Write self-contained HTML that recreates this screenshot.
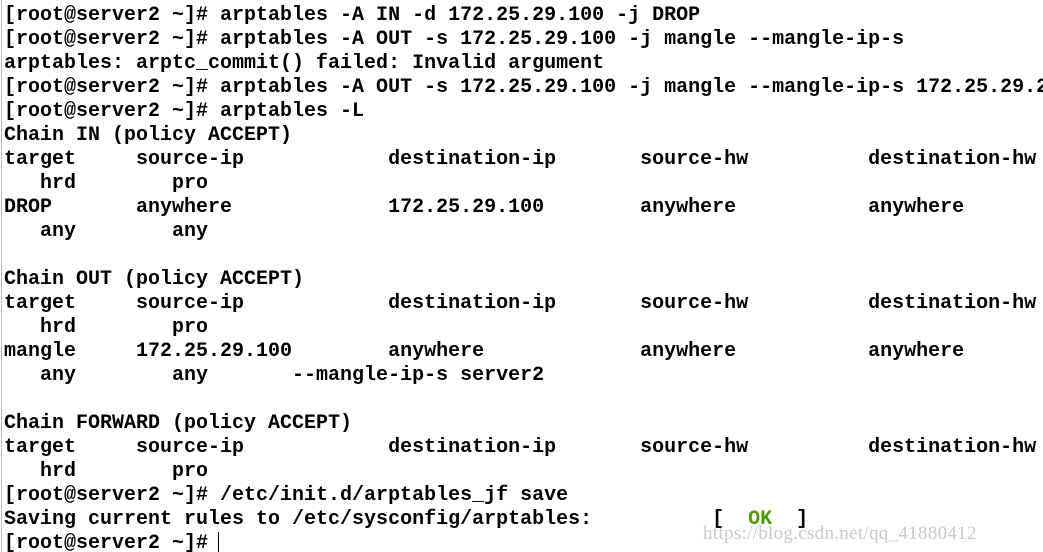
<!DOCTYPE html>
<html><head><meta charset="utf-8"><style>
html,body{margin:0;padding:0;background:#fff;width:1043px;height:552px;overflow:hidden;position:relative}
pre{margin:0;position:absolute;left:4px;top:4px;font-family:"Liberation Mono",monospace;font-weight:bold;font-size:20px;line-height:24px;color:#000;white-space:pre}
.ok{color:#4e9a06}
.bar{position:absolute;left:1px;top:0;width:1px;height:552px;background:#bbb}
.wm{position:absolute;left:703px;top:523px;font-family:"Liberation Serif",serif;font-size:19px;color:#c8c8c8;letter-spacing:0.3px}
.cur{position:absolute;left:218px;top:532px;width:1px;height:20px;background:#000}
</style></head><body>
<div class="bar"></div>
<pre>[root@server2 ~]# arptables -A IN -d 172.25.29.100 -j DROP
[root@server2 ~]# arptables -A OUT -s 172.25.29.100 -j mangle --mangle-ip-s
arptables: arptc_commit() failed: Invalid argument
[root@server2 ~]# arptables -A OUT -s 172.25.29.100 -j mangle --mangle-ip-s 172.25.29.2
[root@server2 ~]# arptables -L
Chain IN (policy ACCEPT)
target     source-ip            destination-ip       source-hw          destination-hw
   hrd        pro
DROP       anywhere             172.25.29.100        anywhere           anywhere
   any        any

Chain OUT (policy ACCEPT)
target     source-ip            destination-ip       source-hw          destination-hw
   hrd        pro
mangle     172.25.29.100        anywhere             anywhere           anywhere
   any        any       --mangle-ip-s server2

Chain FORWARD (policy ACCEPT)
target     source-ip            destination-ip       source-hw          destination-hw
   hrd        pro
[root@server2 ~]# /etc/init.d/arptables_jf save
Saving current rules to /etc/sysconfig/arptables:          [  <span class="ok">OK</span>  ]
[root@server2 ~]# </pre>
<div class="cur"></div>
<div class="wm">https://blog.csdn.net/qq_41880412</div>
</body></html>
